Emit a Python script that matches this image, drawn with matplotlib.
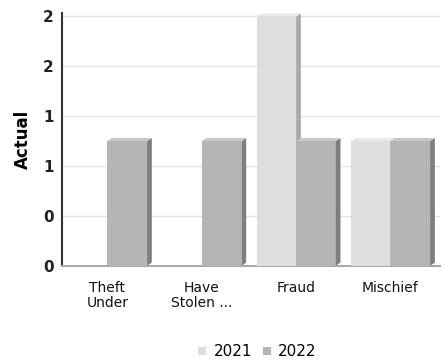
import matplotlib.pyplot as plt
import numpy as np

categories = ["Theft\nUnder", "Have\nStolen ...", "Fraud", "Mischief"]
years = ["2021", "2022"]
values_2021 = [0, 0, 2, 1]
values_2022 = [1, 1, 1, 1]
y_ticks = [0, 0.4, 0.8, 1.2, 1.6, 2.0]

face_colors = {"2021": "#dededc", "2022": "#b5b5b3"}
side_colors = {"2021": "#a9a9a7", "2022": "#7e7e7c"}
top_colors = {"2021": "#e9e9e7", "2022": "#c8c8c6"}

plt.rcParams["font.family"] = ["DejaVu Sans"]

fig = plt.figure(figsize=(4.44, 3.64), dpi=100)
ax = fig.add_axes([0.14, 0.27, 0.85, 0.695])

x = np.arange(len(categories))
width = 0.42
dx, dy = 0.05, 0.025  # depth of fake 3d

for offset, year, vals in [(-width / 2, "2021", values_2021), (width / 2, "2022", values_2022)]:
    for xi, v in zip(x + offset, vals):
        if v <= 0:
            continue
        left = xi - width / 2
        right = xi + width / 2
        ax.bar(xi, v, width=width, color=face_colors[year], edgecolor="none", zorder=3)
        # right side face
        ax.fill([right, right + dx, right + dx, right],
                [0, dy, v + dy, v], color=side_colors[year], lw=0, zorder=3)
        # top face
        ax.fill([left, left + dx, right + dx, right],
                [v, v + dy, v + dy, v], color=top_colors[year], lw=0, zorder=3)

# legend handles
for year in years:
    ax.bar([0], [0], color=face_colors[year], label=year)

ax.set_xlim(-0.48, 3.52)
ax.set_ylim(0, 2.03)
ax.set_yticks(y_ticks)
ax.set_yticklabels([f"{t:.0f}" for t in y_ticks], fontsize=11, fontweight="bold", color="#222222")
ax.set_xticks(x)
ax.set_xticklabels(categories, fontsize=10, color="#111111", linespacing=1.1)
ax.tick_params(axis="both", length=0, pad=6)
ax.tick_params(axis="x", pad=11)

ax.yaxis.grid(True, color="#e4e4e4", lw=1, zorder=0)
ax.set_axisbelow(True)
for s in ["top", "right"]:
    ax.spines[s].set_visible(False)
ax.spines["left"].set_color("#333333")
ax.spines["left"].set_linewidth(1.5)
ax.spines["bottom"].set_color("#aaaaaa")
ax.spines["bottom"].set_linewidth(1.5)

ax.set_ylabel("Actual", fontsize=12, fontweight="bold", labelpad=8)

fig.legend(*ax.get_legend_handles_labels(), loc="lower center", ncol=2,
           bbox_to_anchor=(0.58, -0.025), frameon=False, fontsize=11,
           handlelength=0.5, handleheight=0.5, handletextpad=0.5, columnspacing=0.7)

fig.savefig("out.png", dpi=100)
